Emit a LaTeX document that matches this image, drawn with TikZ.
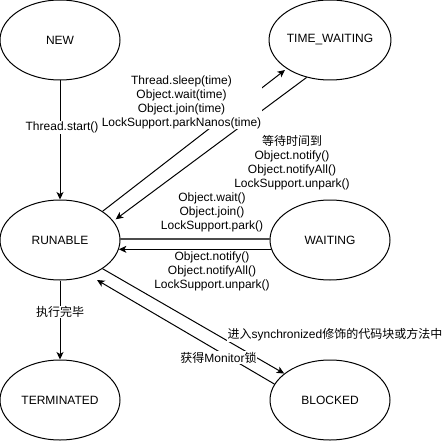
\documentclass[tikz,border=0pt]{standalone}
\usepackage{fontspec}
\setmainfont{Liberation Sans}
\newfontfamily\cjk{Noto Sans CJK SC}
\usetikzlibrary{shapes.geometric,arrows.meta}
\begin{document}
\begin{tikzpicture}[x=1pt,y=-1pt,
  state/.style={ellipse,draw,line width=1pt,minimum width=120pt,minimum height=80pt,inner sep=0pt,fill=white,font=\fontsize{12}{14}\selectfont},
  lbl/.style={fill=white,inner sep=0.5pt,align=center,font=\fontsize{12}{14}\selectfont},
  arr/.style={draw,line width=1pt,-{Stealth[length=7.5pt,width=7pt,inset=2pt]}},
  ln/.style={draw,line width=1.5pt,black!70}]
\fill[white] (0,0) rectangle (444,441);
\useasboundingbox (0,0) rectangle (444,441);
% states
\node[state] (new)  at (60,40)   {NEW};
\node[state] (tw)   at (330,40)  {TIME\_WAITING};
\node[state] (run)  at (60,240)  {RUNABLE};
\node[state] (wait) at (330,240) {WAITING};
\node[state] (term) at (60,400)  {TERMINATED};
\node[state] (blk)  at (330,400) {BLOCKED};
% free arrow ends
\coordinate (twtip)   at (285,70);
\coordinate (runtipa) at (115.7,219.3);
\coordinate (runtipb) at (97,280);
% connectors
\draw[arr] (new.south) -- (run.north);
\draw[arr] (run.34) -- (twtip);
\draw[arr] (tw.238) -- (runtipa);
\draw[ln]  (run.1) -- (wait.179);
\draw[arr] (wait.189) -- (run.-9);
\draw[arr] (run.south) -- (term.north);
\draw[arr] (run.-34) -- (blk.150);
\draw[arr] (blk.164) -- (runtipb);
% labels
\node[lbl] (l1) at (62,127.5) {Thread.start()};
\node[lbl] (l2) at (181.5,102) {Thread.sleep(time)\\Object.wait(time)\\Object.join(time)\\LockSupport.parkNanos(time)};
\node[lbl] (l3) at (292,162.5) {{\cjk 等待时间到}\\Object.notify()\\Object.notifyAll()\\LockSupport.unpark()};
\node[lbl] (l4) at (212,212) {Object.wait()\\Object.join()\\LockSupport.park()};
\node[lbl] (l5) at (212,271) {Object.notify()\\Object.notifyAll()\\LockSupport.unpark()};
\node[lbl] (l6) at (60,312) {\cjk 执行完毕};
\node[lbl] (l7) at (335,335) {{\cjk 进入}synchronized{\cjk 修饰的代码块或方法中}};
\node[lbl] (l8) at (218.5,357.5) {{\cjk 获得}Monitor{\cjk 锁}};
\end{tikzpicture}
\end{document}
